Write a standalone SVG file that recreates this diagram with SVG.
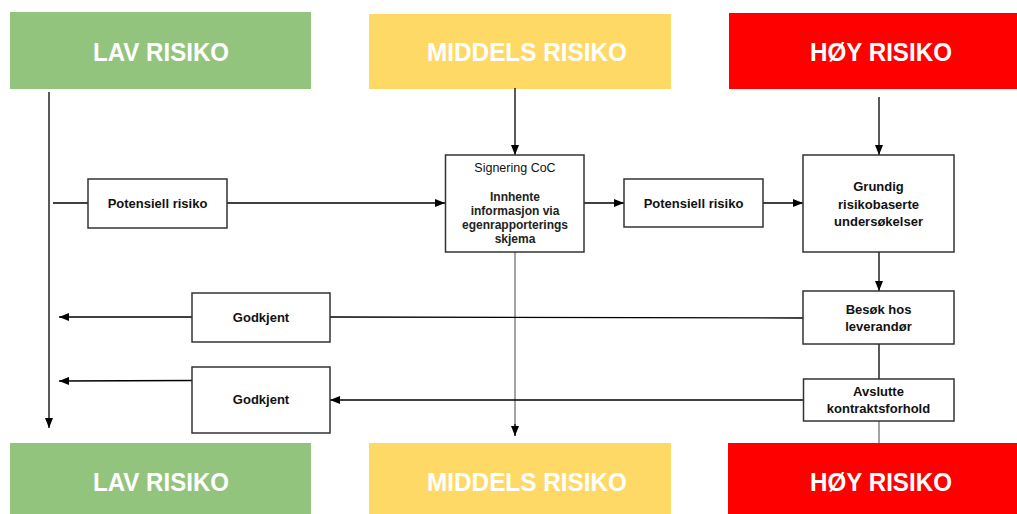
<svg xmlns="http://www.w3.org/2000/svg" width="1017" height="514" viewBox="0 0 1017 514">
<style>
.hdr{font-family:"Liberation Sans",Arial,sans-serif;font-weight:bold;font-size:26px;fill:#fff;text-anchor:middle}
.box{fill:#fff;stroke:#333;stroke-width:1.5}
.t{font-family:"Liberation Sans",Arial,sans-serif;font-weight:bold;font-size:13px;fill:#111;text-anchor:middle}
.s{font-family:"Liberation Sans",Arial,sans-serif;font-weight:bold;font-size:12px;fill:#222;text-anchor:middle}
.ln{fill:none;stroke:#000;stroke-width:1.3}
.gl{fill:none;stroke:#666;stroke-width:1.2}
</style>
<defs>
<marker id="ah" markerWidth="10" markerHeight="8" refX="10" refY="4" orient="auto" markerUnits="userSpaceOnUse">
<path d="M0,0 L10,4 L0,8 Z" fill="#000"/>
</marker>
</defs>
<g id="lav-top"><rect x="10" y="12" width="301" height="77" fill="#93C47D"/><text class="hdr" x="161" y="61" textLength="136" lengthAdjust="spacingAndGlyphs">LAV RISIKO</text></g>
<g id="middels-top"><rect x="369" y="14" width="302" height="75" fill="#FFD966"/><text class="hdr" x="527" y="61" textLength="200" lengthAdjust="spacingAndGlyphs">MIDDELS RISIKO</text></g>
<g id="hoy-top"><rect x="729" y="13" width="288" height="76" fill="#FF0000"/><text class="hdr" x="881" y="61" textLength="142" lengthAdjust="spacingAndGlyphs">HØY RISIKO</text></g>
<g id="lav-bottom"><rect x="10" y="443" width="301" height="71" fill="#93C47D"/><text class="hdr" x="161" y="491" textLength="136" lengthAdjust="spacingAndGlyphs">LAV RISIKO</text></g>
<g id="middels-bottom"><rect x="369" y="443" width="302" height="71" fill="#FFD966"/><text class="hdr" x="527" y="491" textLength="200" lengthAdjust="spacingAndGlyphs">MIDDELS RISIKO</text></g>
<g id="hoy-bottom"><rect x="728" y="443" width="289" height="71" fill="#FF0000"/><text class="hdr" x="881" y="491" textLength="142" lengthAdjust="spacingAndGlyphs">HØY RISIKO</text></g>
<g id="connectors">
<line class="ln" x1="49" y1="92" x2="49" y2="428" marker-end="url(#ah)"/>
<line class="ln" x1="53" y1="203" x2="88" y2="203"/>
<line class="ln" x1="227" y1="203" x2="445" y2="203" marker-end="url(#ah)"/>
<line class="ln" x1="515" y1="88" x2="515" y2="155" marker-end="url(#ah)"/>
<line class="ln" x1="584" y1="203" x2="624" y2="203" marker-end="url(#ah)"/>
<line class="ln" x1="763" y1="203" x2="803" y2="203" marker-end="url(#ah)"/>
<line class="ln" x1="879" y1="97" x2="879" y2="155" marker-end="url(#ah)"/>
<line class="ln" x1="879" y1="252" x2="879" y2="291" marker-end="url(#ah)"/>
<line class="ln" x1="879" y1="344" x2="879" y2="379"/>
<line class="gl" x1="879" y1="421" x2="879" y2="443"/>
<line class="gl" x1="515" y1="252" x2="515" y2="426"/>
<line class="ln" x1="515" y1="424" x2="515" y2="436" marker-end="url(#ah)"/>
<line class="ln" x1="803" y1="318" x2="330" y2="317"/>
<line class="ln" x1="192" y1="317" x2="59" y2="317" marker-end="url(#ah)"/>
<line class="ln" x1="192" y1="380.5" x2="59" y2="381" marker-end="url(#ah)"/>
<line class="ln" x1="803" y1="400" x2="330" y2="400" marker-end="url(#ah)"/>
</g>
<g id="potensiell-1"><rect class="box" x="88" y="179" width="139" height="49"/><text class="t" x="157.5" y="208">Potensiell risiko</text></g>
<g id="signering"><rect class="box" x="445.5" y="155" width="138.5" height="97"/>
<text x="515" y="172" font-family="Liberation Sans, Arial, sans-serif" font-size="12.5" fill="#111" text-anchor="middle">Signering CoC</text>
<text class="s" x="515" y="201">Innhente</text>
<text class="s" x="515" y="215">informasjon via</text>
<text class="s" x="515" y="229">egenrapporterings</text>
<text class="s" x="515" y="243">skjema</text></g>
<g id="potensiell-2"><rect class="box" x="624" y="179" width="139" height="48"/><text class="t" x="693.5" y="208">Potensiell risiko</text></g>
<g id="grundig"><rect class="box" x="803" y="155" width="151" height="97"/>
<text class="t" x="878.5" y="191">Grundig</text>
<text class="t" x="878.5" y="208.5">risikobaserte</text>
<text class="t" x="878.5" y="226">undersøkelser</text></g>
<g id="besok"><rect class="box" x="803" y="291" width="151" height="53"/>
<text class="t" x="878.5" y="314">Besøk hos</text>
<text class="t" x="878.5" y="331">leverandør</text></g>
<g id="avslutte"><rect class="box" x="803.5" y="379" width="150.5" height="42"/>
<text class="t" x="878.5" y="396">Avslutte</text>
<text class="t" x="878.5" y="413">kontraktsforhold</text></g>
<g id="godkjent-1"><rect class="box" x="192" y="293" width="138" height="49"/><text class="t" x="261" y="322">Godkjent</text></g>
<g id="godkjent-2"><rect class="box" x="192" y="367" width="138" height="66"/><text class="t" x="261" y="404">Godkjent</text></g>
</svg>
